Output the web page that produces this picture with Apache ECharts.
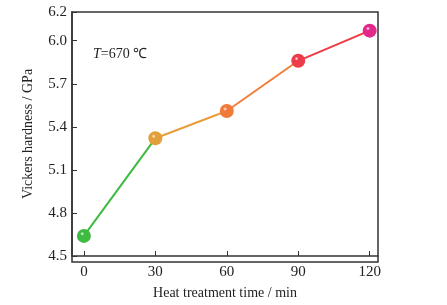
<!DOCTYPE html>
<html>
<head>
<meta charset="utf-8">
<script src="https://cdn.jsdelivr.net/npm/echarts@6/dist/echarts.min.js"></script>
<style>
  html, body { margin: 0; padding: 0; background: #fff; }
  #chart { width: 447px; height: 305px; }
</style>
</head>
<body>
<div id="chart"></div>
<script>
// Data
const times = [0, 30, 60, 90, 120]
const hardness = [4.64, 5.32, 5.51, 5.86, 6.07]
const pointColors = ['#3dba3f', '#e3a03a', '#f07a3a', '#ee3d4a', '#e2288a']
const segmentColors = ['#3dba3f', '#e79d3a', '#f27e3a', '#f03a44']
const xTicks = [0, 30, 60, 90, 120]

const FONT = 'Liberation Serif'
const AXIS_COLOR = '#333'

const chart = echarts.init(document.getElementById('chart'))

// one line series per segment so each piece gets its own colour
const segmentSeries = segmentColors.map((c, i) => ({
  type: 'line',
  silent: true,
  showSymbol: false,
  lineStyle: { color: c, width: 2 },
  data: [[times[i], hardness[i]], [times[i + 1], hardness[i + 1]]],
  z: 2,
}))

const ball = (c) => ({
  type: 'radial', x: 0.38, y: 0.35, r: 0.7,
  colorStops: [
    { offset: 0, color: '#ffffff' },
    { offset: 0.2, color: c },
    { offset: 1, color: c },
  ],
})

chart.setOption({
  animation: false,
  grid: { left: 72, right: 69, top: 12, bottom: 43 },
  xAxis: {
    type: 'value',
    min: -5,
    max: 123.5,
    name: 'Heat treatment time / min',
    nameLocation: 'middle',
    nameGap: 30,
    nameTextStyle: { fontFamily: FONT, fontSize: 14, color: '#222' },
    axisLine: { show: true, onZero: false, lineStyle: { color: AXIS_COLOR, width: 1.5 } },
    axisTick: { show: true, inside: true, length: 5, customValues: xTicks, lineStyle: { color: AXIS_COLOR } },
    axisLabel: { customValues: xTicks, fontFamily: FONT, fontSize: 15, color: '#222', margin: 9 },
    splitLine: { show: false },
  },
  yAxis: {
    type: 'value',
    min: 4.5,
    max: 6.2,
    interval: 0.3,
    name: 'Vickers hardness / GPa',
    nameLocation: 'middle',
    nameGap: 37,
    nameTextStyle: { fontFamily: FONT, fontSize: 14, color: '#222' },
    axisLine: { show: true, onZero: false, lineStyle: { color: AXIS_COLOR, width: 1.5 } },
    axisTick: { show: true, inside: true, length: 5, lineStyle: { color: AXIS_COLOR } },
    axisLabel: {
      fontFamily: FONT, fontSize: 15, color: '#222', margin: 5,
      formatter: (v) => v.toFixed(1),
    },
    splitLine: { show: false },
  },
  graphic: [
    {
      type: 'rect',
      shape: { x: 72, y: 12, width: 306, height: 250 },
      style: { fill: 'none', stroke: AXIS_COLOR, lineWidth: 1.5 },
      silent: true,
    },
    {
      type: 'text',
      left: 93,
      top: 47,
      style: {
        text: '{i|T}=670 ℃',
        font: '14px ' + FONT,
        fill: '#222',
        rich: { i: { fontStyle: 'italic', fontFamily: FONT, fontSize: 14, fill: '#222' } },
      },
    },
  ],
  series: [
    ...segmentSeries,
    {
      type: 'scatter',
      symbolSize: 14,
      z: 3,
      data: times.map((t, i) => ({
        value: [t, hardness[i]],
        itemStyle: { color: ball(pointColors[i]), opacity: 1 },
      })),
    },
  ],
})
</script>
</body>
</html>
